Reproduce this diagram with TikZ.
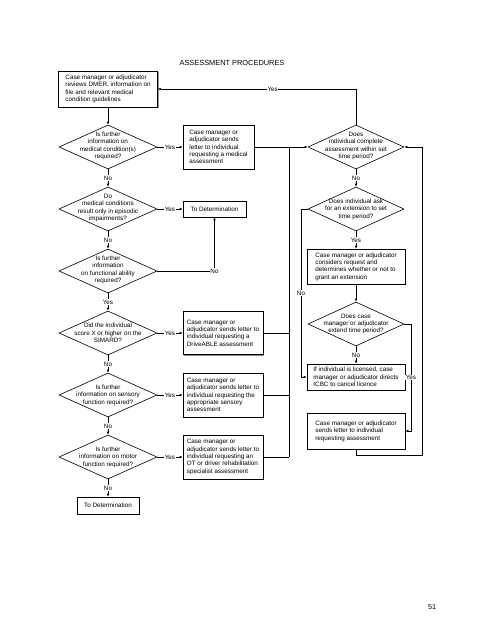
\documentclass[tikz,border=0pt]{standalone}
\usepackage{fontspec}
\setmainfont{Liberation Sans}
\usetikzlibrary{shapes.geometric,arrows.meta,shadows}
\newcommand\fsz{\fontsize{6.3}{7.4}\selectfont}
\tikzset{
  ln/.style={line width=0.6pt},
  arr/.style={ln,-{Latex[length=3pt,width=2.6pt]}},
  lbl/.style={font=\fsz,fill=white,inner sep=0.4pt},
  bx/.style={draw,ln,fill=white,font=\fsz,align=left,inner xsep=3pt,inner ysep=0pt,
    drop shadow={shadow xshift=1.2pt,shadow yshift=-1.2pt,fill=black!45,opacity=1}},
  dia/.style={draw,ln,shape=diamond,inner sep=0pt,minimum width=98pt,minimum height=44pt},
  diar/.style={dia,minimum width=96pt},
  dtext/.style={font=\fsz,align=center,inner sep=0pt},
}
\begin{document}
\begin{tikzpicture}[x=1pt,y=-1pt]
\useasboundingbox (0,0) rectangle (495,640);
\node[font=\fontsize{7.4}{9}\selectfont] (title) at (232,63) {ASSESSMENT PROCEDURES};
\node[font=\fontsize{7.2}{9}\selectfont] (page) at (432,607) {51};

% left column
\node[bx,minimum width=99pt,minimum height=36pt] (a) at (108,89)
  {Case manager or adjudicator\\reviews DMER, information on\\file and relevant medical\\condition guidelines};
\node[dia] (q1) at (108,147) {};
\node[dtext] (q1t) at (108,146) {Is further\\information on\\medical condition(s)\\required?};
\node[bx,minimum width=71pt,minimum height=44pt] (b1) at (218.5,147)
  {Case manager or\\adjudicator sends\\letter to individual\\requesting a medical\\assessment};
\node[dia] (q2) at (108,209) {};
\node[dtext] (q2t) at (108,208) {Do\\medical conditions\\result only in episodic\\impairments?};
\node[bx,minimum width=63pt,minimum height=16pt,align=center] (td1) at (214.5,209) {To Determination};
\node[dia] (q3) at (108,271) {};
\node[dtext] (q3t) at (108,270) {Is further\\information\\on functional ability\\required?};
\node[dia] (q4) at (108,333) {};
\node[dtext] (q4t) at (108,333) {Did the individual\\score X or higher on the\\SIMARD?};
\node[bx,minimum width=80pt,minimum height=43pt] (b2) at (223,333)
  {Case manager or\\adjudicator sends letter to\\individual requesting a\\DriveABLE assessment};
\node[dia] (q5) at (108,395) {};
\node[dtext] (q5t) at (108,395) {Is further\\information on sensory\\function required?};
\node[bx,minimum width=80pt,minimum height=44pt] (b3) at (223,395)
  {Case manager or\\adjudicator sends letter to\\individual requesting the\\appropriate sensory\\assessment};
\node[dia] (q6) at (108,457) {};
\node[dtext] (q6t) at (108,457) {Is further\\information on motor\\function required?};
\node[bx,minimum width=80pt,minimum height=44pt] (b4) at (223,457)
  {Case manager or\\adjudicator sends letter to\\individual requesting an\\OT or driver rehabilitation\\specialist assessment};
\node[bx,minimum width=62pt,minimum height=17pt,align=center] (td2) at (108,505.5) {To Determination};

% right column
\node[diar] (d1) at (356,147) {};
\node[dtext] (d1t) at (356,146) {Does\\individual complete\\assessment within set\\time period?};
\node[diar] (d2) at (356,209) {};
\node[dtext] (d2t) at (356,209) {Does individual ask\\for an extension to set\\time period?};
\node[bx,minimum width=98pt,minimum height=35pt] (c) at (356,266.5)
  {Case manager or adjudicator\\considers request and\\determines whether or not to\\grant an extension};
\node[diar] (d3) at (356,324) {};
\node[dtext] (d3t) at (356,324) {Does case\\manager or adjudicator\\extend time period?};
\node[bx,minimum width=98pt,minimum height=26pt] (e) at (356,377)
  {If individual is licensed, case\\manager or adjudicator directs\\ICBC to cancel licence};
\node[bx,minimum width=98pt,minimum height=36pt] (g) at (356,431)
  {Case manager or adjudicator\\sends letter to individual\\requesting assessment\phantom{g}\hspace{14pt}};

% left connectors
\draw[arr] (a.south) -- (q1.north);
\draw[arr] (q1.east) -- node[lbl]{Yes} (b1.west);
\draw[arr] (q1.south) -- node[lbl]{No} (q2.north);
\draw[arr] (q2.east) -- node[lbl]{Yes} (td1.west);
\draw[arr] (q2.south) -- node[lbl]{No} (q3.north);
\draw[arr] (q3.east) -- (td1.south |- q3.east) node[lbl]{No} -- (td1.south);
\draw[arr] (q3.south) -- node[lbl]{Yes} (q4.north);
\draw[arr] (q4.east) -- node[lbl]{Yes} (b2.west);
\draw[arr] (q4.south) -- node[lbl]{No} (q5.north);
\draw[arr] (q5.east) -- node[lbl]{Yes} (b3.west);
\draw[arr] (q5.south) -- node[lbl]{No} (q6.north);
\draw[arr] (q6.east) -- node[lbl]{Yes} (b4.west);
\draw[arr] (q6.south) -- node[lbl]{No} (td2.north);

% collecting bus
\coordinate (bt) at (289,147);
\coordinate (bb) at (289,457);
\draw[line width=1pt] (bt) -- (bb);
\draw[arr] (b1.east) -- (d1.west);
\draw[ln] (b2.east) -- (b2.east -| bt);
\draw[ln] (b3.east) -- (b3.east -| bt);
\draw[ln] (b4.east) -- (bb);

% right connectors
\draw[arr] (d1.north) |- node[lbl,pos=0.71]{Yes} (a.east);
\draw[arr] (d1.south) -- node[lbl]{No} (d2.north);
\draw[arr] (d2.south) -- node[lbl]{Yes} (c.north);
\coordinate (nl) at (301,209);
\draw[arr] (d2.west) -- (nl) |- node[lbl,pos=0.25]{No} (e.west);
\draw[arr] (c.south) -- (d3.north);
\draw[arr] (d3.south) -- node[lbl]{No} (e.north);
\coordinate (yr) at (411,324);
\draw[arr] (d3.east) -- (yr) |- node[lbl,pos=0.25]{Yes} (g.east);
\coordinate (r1) at (422,455);
\draw[arr] (g.south) |- (r1) |- (d1.east);
\end{tikzpicture}
\end{document}
